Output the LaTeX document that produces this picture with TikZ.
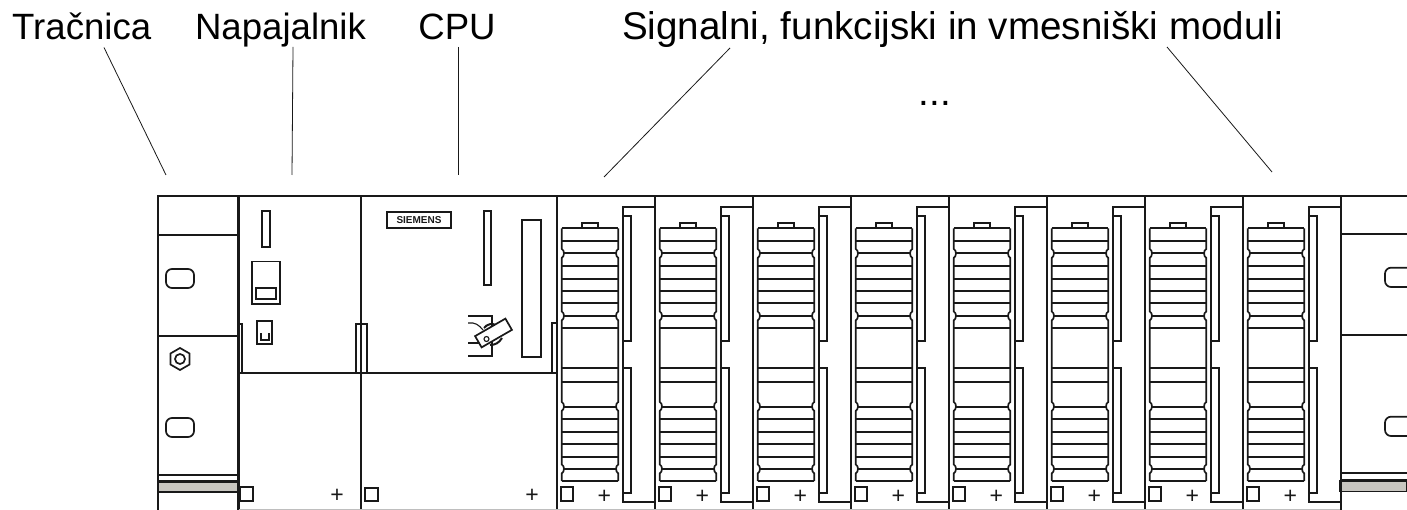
\documentclass[tikz,border=0pt]{standalone}
\usepackage{fontspec}
\setmainfont{Liberation Sans}
\usepackage{xcolor}
\usetikzlibrary{arrows.meta, positioning, shapes.geometric, calc}
\definecolor{plcline}{RGB}{25, 25, 25}
\definecolor{plcgray}{RGB}{200, 198, 192}
\definecolor{plcedge}{RGB}{190, 190, 190}

\begin{document}
\begin{tikzpicture}[
  x=1pt, y=-1pt,
  every node/.style = {inner sep=0pt, outer sep=0pt},
  title/.style   = {font=\fontsize{36.6}{40}\selectfont, anchor=base, text=black},
  wide title/.style = {title, font=\fontsize{38.6}{42}\selectfont},
  leader/.style  = {line width=0.8pt, plcline},
  part/.style    = {line width=1.7pt, plcline},
  thin part/.style = {line width=1.1pt, plcline},
  heavy/.style   = {line width=2.8pt, plcline},
  plusmark/.style = {font=\fontsize{23}{23}\selectfont, text=plcline}
]
\useasboundingbox (0,0) rectangle (1407,510);

% Labels
\node[title] (lblrail) at (81.7,39.5) {Tračnica};
\node[title] (lblpsu)  at (280.5,39.5) {Napajalnik};
\node[title] (lblcpu)  at (457,39.5) {CPU};
\node[wide title] (lblmods) at (952.5,40) {Signalni, funkcijski in vmesniški moduli};
\node[wide title] (lbldots) at (935,106) {...};

% Leader ends
\coordinate (rail) at (166,175);
\coordinate (psu)  at (292,175);
\coordinate (cpu)  at (458,175);
\coordinate (modfirst) at (604,177);
\coordinate (modlast)  at (1272,172);

\draw[leader] ([xshift=22.3pt,yshift=-8pt]lblrail.base) -- (rail);
\draw[leader] ([xshift=12.5pt,yshift=-7.5pt]lblpsu.base) -- (psu);
\draw[leader] ([xshift=1pt,yshift=-7.5pt]lblcpu.base) -- (cpu);
\draw[leader] ([xshift=-222.5pt,yshift=-8pt]lblmods.base) -- (modfirst);
\draw[leader] ([xshift=214.5pt,yshift=-7pt]lblmods.base) -- (modlast);

% Left rail
\draw[part] (238.5,196) -- (158,196) -- (158,510);
\draw[part] (158,235) -- (238.5,235);
\draw[heavy] (158,336) -- (238.5,336);
\draw[thin part] (158,475) -- (238.5,475);
\draw[part] (158,481) -- (238.5,481);
\draw[part, fill=plcgray] (158,482) rectangle (238.5,492);
\draw[heavy] (238.5,196) -- (238.5,510);
\draw[part, rounded corners=6pt] (166,269) rectangle (194,288);
\draw[part, rounded corners=6pt] (166,418) rectangle (194,437);
\node[draw, part, regular polygon, regular polygon sides=6, shape border rotate=30,
      minimum size=22pt] (nut) at (180,359) {};
\draw[part] (nut.center) circle (5);

% Power supply
\draw[part] (238.5,196) -- (557,196);
\draw[part] (361,196) -- (361,510);
\draw[part] (238.5,373) -- (557,373);
\draw[part] (238.5,324) -- (242,324) -- (242,373);
\draw[part] (356,373) -- (356,324) -- (367,324) -- (367,373);
\draw[part] (262,211) rectangle (270,247);
\draw[part] (252,261.5) rectangle (280,304);
\draw[part] (256,288) rectangle (276,299);
\draw[part] (257,321) rectangle (272,344);
\draw[part] (261,333) -- (261,340) -- (269,340) -- (269,333);
\draw[part] (240,487) rectangle (253,501);
\node[plusmark] (pluspsu) at (337,496) {+};

% CPU
\node[draw, part, minimum width=64pt, minimum height=16pt,
      font=\fontsize{10}{10}\selectfont\bfseries] (brand) at (419,220) {SIEMENS};
\draw[part] (484,211) rectangle (491,285);
\draw[part] (522,220) rectangle (541,357);
\draw[part] (557,323) -- (552,323) -- (552,373);
\draw[part] (468,316) -- (492,316) -- (492,356) -- (468,356);
\draw[part] (468,343) -- (480,343);
\draw[thin part] (468,323) .. controls (475,322) and (479,325) .. (483,330);
\draw[line width=2pt, plcline] (484,328) .. controls (487,324) and (492,323) .. (496,325);
\draw[line width=2pt, plcline] (490,345) .. controls (495,345) and (499,343) .. (502,338);
\node[draw, part, fill=white, rotate=30, minimum width=35pt, minimum height=13pt] (key) at (493.5,333) {};
\draw[thin part] ([shift={(-7,6)}]key.center) circle (2.5);
\draw[part] (365,488) rectangle (378,501);
\node[plusmark] (pluscpu) at (532,496) {+};

% Signal modules
\foreach \m in {0,...,7} {
  \begin{scope}[xshift=557.3pt+98*\m pt]
    \draw[part] (0,196) -- (98,196);
    \draw[part] (0,196) -- (0,510);
    % tab and cover
    \draw[part] (25,228.3) -- (25,223.3) -- (40.4,223.3) -- (40.4,228.3);
    \draw[part] (4.4,228.3) -- (61,228.3);
    \draw[part] (4.4,481) -- (61,481);
    \foreach \ly in {241,266,279,291,303.3,328.3,368.3,381.7,419.3,431.7,444,456.7}
      \draw[part] (4.4,\ly) -- (61,\ly);
    \foreach \ly in {253.3,316,406.7,469}
      \draw[part] (7,\ly) -- (58.4,\ly);
    % cover sides with their notches
    \foreach \sx/\dx in {4.4/1, 61/-1} {
      \draw[part] (\sx,228.3) -- (\sx,249)
        .. controls (\sx+3*\dx,250) and (\sx+3*\dx,256.5) .. (\sx,258) -- (\sx,311.5)
        .. controls (\sx+3*\dx,312.5) and (\sx+3*\dx,319) .. (\sx,320.5) -- (\sx,402)
        .. controls (\sx+3*\dx,403) and (\sx+3*\dx,409.5) .. (\sx,411) -- (\sx,464.5)
        .. controls (\sx+3*\dx,465.5) and (\sx+3*\dx,472) .. (\sx,473.5) -- (\sx,481);
    }
    % bracket
    \draw[part] (98,206.7) -- (65.4,206.7) -- (65.4,501.7) -- (98,501.7);
    \draw[part] (65.4,215.7) rectangle (73.6,340.7);
    \draw[part] (65.4,368.3) rectangle (73.6,493.3);
    % foot marks
    \draw[part] (3.4,487.3) rectangle (16,500.7);
    \node[plusmark] (plus\m) at (47,496.5) {+};
  \end{scope}
}

% Right rail
\draw[part] (1340,196) -- (1407,196);
\draw[thin part] (1340,234) -- (1407,234);
\draw[heavy] (1340,335) -- (1407,335);
\draw[thin part] (1340,473) -- (1407,473);
\draw[part] (1340,480) -- (1407,480);
\draw[part, fill=plcgray] (1340,481) rectangle (1407,491.5);
\draw[heavy] (1341,196) -- (1341,510);
\draw[part, rounded corners=6pt] (1407,267.7) -- (1385,267.7) -- (1385,287) -- (1407,287);
\draw[part, rounded corners=6pt] (1407,416.7) -- (1385,416.7) -- (1385,436) -- (1407,436);

% Bottom edge
\draw[line width=0.8pt, plcedge] (238.5,509.6) -- (1340,509.6);
\end{tikzpicture}
\end{document}
